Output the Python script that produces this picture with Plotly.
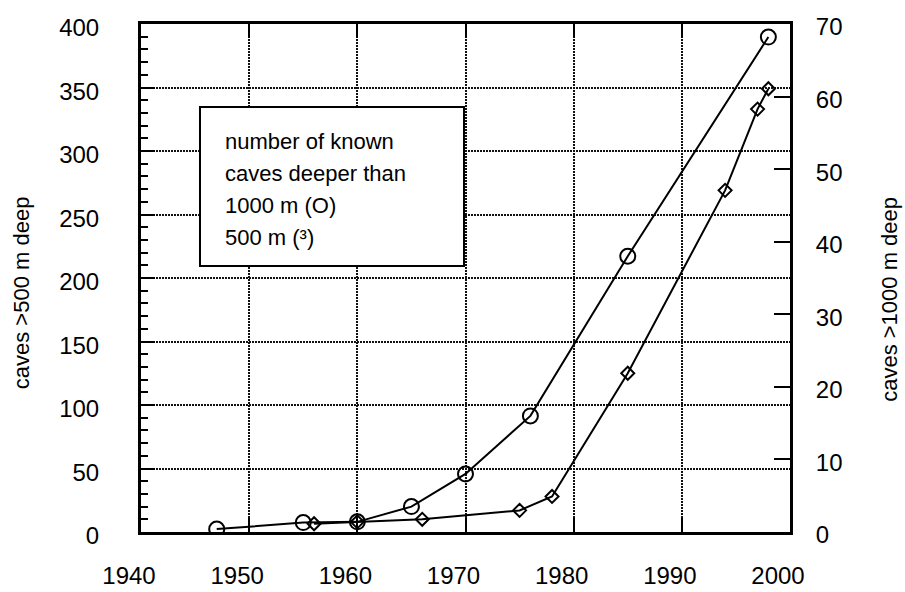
import plotly.graph_objects as go

# Caves deeper than 1000 m (right axis, circles)
years_1000 = [1947, 1955, 1960, 1965, 1970, 1976, 1985, 1998]
caves_1000 = [0.4, 1.3, 1.4, 3.5, 8, 16, 38, 68.2]

# Caves deeper than 500 m (left axis, diamonds)
years_500 = [1956, 1960, 1966, 1975, 1978, 1985, 1994, 1997, 1998]
caves_500 = [6.5, 8, 10, 17, 28, 125, 269, 333, 349]

x_ticks = [1940, 1950, 1960, 1970, 1980, 1990, 2000]
left_ticks = [0, 50, 100, 150, 200, 250, 300, 350, 400]
right_ticks = [0, 10, 20, 30, 40, 50, 60, 70]

legend_lines = ["number of known", "caves deeper than", "1000 m (O)", "500 m (³)"]

FONT = "Liberation Sans, Arial, sans-serif"
INK = "black"
GRID = dict(showgrid=True, gridcolor="#111111", gridwidth=2, griddash="2px,1px")

fig = go.Figure()

fig.add_trace(go.Scatter(
    x=years_1000, y=caves_1000, yaxis="y2", mode="lines+markers",
    line=dict(color=INK, width=2),
    marker=dict(symbol="circle-open", size=15, color=INK, line=dict(width=2)),
    showlegend=False, hoverinfo="skip",
))
fig.add_trace(go.Scatter(
    x=years_500, y=caves_500, yaxis="y", mode="lines+markers",
    line=dict(color=INK, width=2),
    marker=dict(symbol="diamond-open", size=10, color=INK, line=dict(width=2)),
    showlegend=False, hoverinfo="skip",
))

fig.update_layout(
    width=905, height=592,
    margin=dict(l=141, r=115, t=24, b=60, autoexpand=False),
    paper_bgcolor="white", plot_bgcolor="white",
    font=dict(family=FONT, size=24, color=INK),
    xaxis=dict(
        range=[1940, 2000], tickvals=x_ticks, ticktext=[str(v) for v in x_ticks],
        ticks="inside", ticklen=14, tickwidth=2, tickcolor=INK,
        showline=True, linewidth=3, linecolor=INK, mirror="ticks",
        zeroline=False, automargin=False,
        ticklabelstandoff=20, ticklabelshift=-12, **GRID,
    ),
    yaxis=dict(
        range=[0, 400], tickvals=left_ticks, ticktext=[str(v) for v in left_ticks],
        ticks="inside", ticklen=14, tickwidth=2, tickcolor=INK,
        minor=dict(dtick=10, ticks="inside", ticklen=7, tickwidth=2, tickcolor=INK, showgrid=False),
        showline=True, linewidth=3, linecolor=INK, mirror=True,
        zeroline=False, automargin=False,
        ticklabelstandoff=34, ticklabelshift=4, **GRID,
    ),
    yaxis2=dict(
        range=[0, 70], tickvals=right_ticks, ticktext=[str(v) for v in right_ticks],
        overlaying="y", side="right",
        ticks="inside", ticklen=16, tickwidth=2, tickcolor=INK,
        showline=True, linewidth=3, linecolor=INK,
        showgrid=False, zeroline=False, automargin=False,
        ticklabelstandoff=18, ticklabelshift=3,
    ),
    shapes=[dict(
        type="rect", xref="paper", yref="paper",
        x0=0.0909, x1=0.4977, y0=0.5236, y1=0.8366,
        line=dict(color=INK, width=2), fillcolor="white", layer="above",
    )],
)

# Note box text
line_y = [0.769, 0.705, 0.642, 0.579]
for txt, yy in zip(legend_lines, line_y):
    fig.add_annotation(
        x=0.1263, y=yy, xref="paper", yref="paper", xanchor="left", yanchor="middle",
        text=txt, showarrow=False, font=dict(family=FONT, size=22, color=INK),
    )

# Axis titles
fig.add_annotation(
    x=0, y=0.47, xref="paper", yref="paper", xshift=-120, textangle=-90,
    xanchor="center", yanchor="middle", showarrow=False,
    text="caves &gt;500 m deep", font=dict(family=FONT, size=22, color=INK),
)
fig.add_annotation(
    x=1, y=0.457, xref="paper", yref="paper", xshift=100, textangle=-90,
    xanchor="center", yanchor="middle", showarrow=False,
    text="caves &gt;1000 m deep", font=dict(family=FONT, size=22, color=INK),
)

fig.write_html("out.html")
